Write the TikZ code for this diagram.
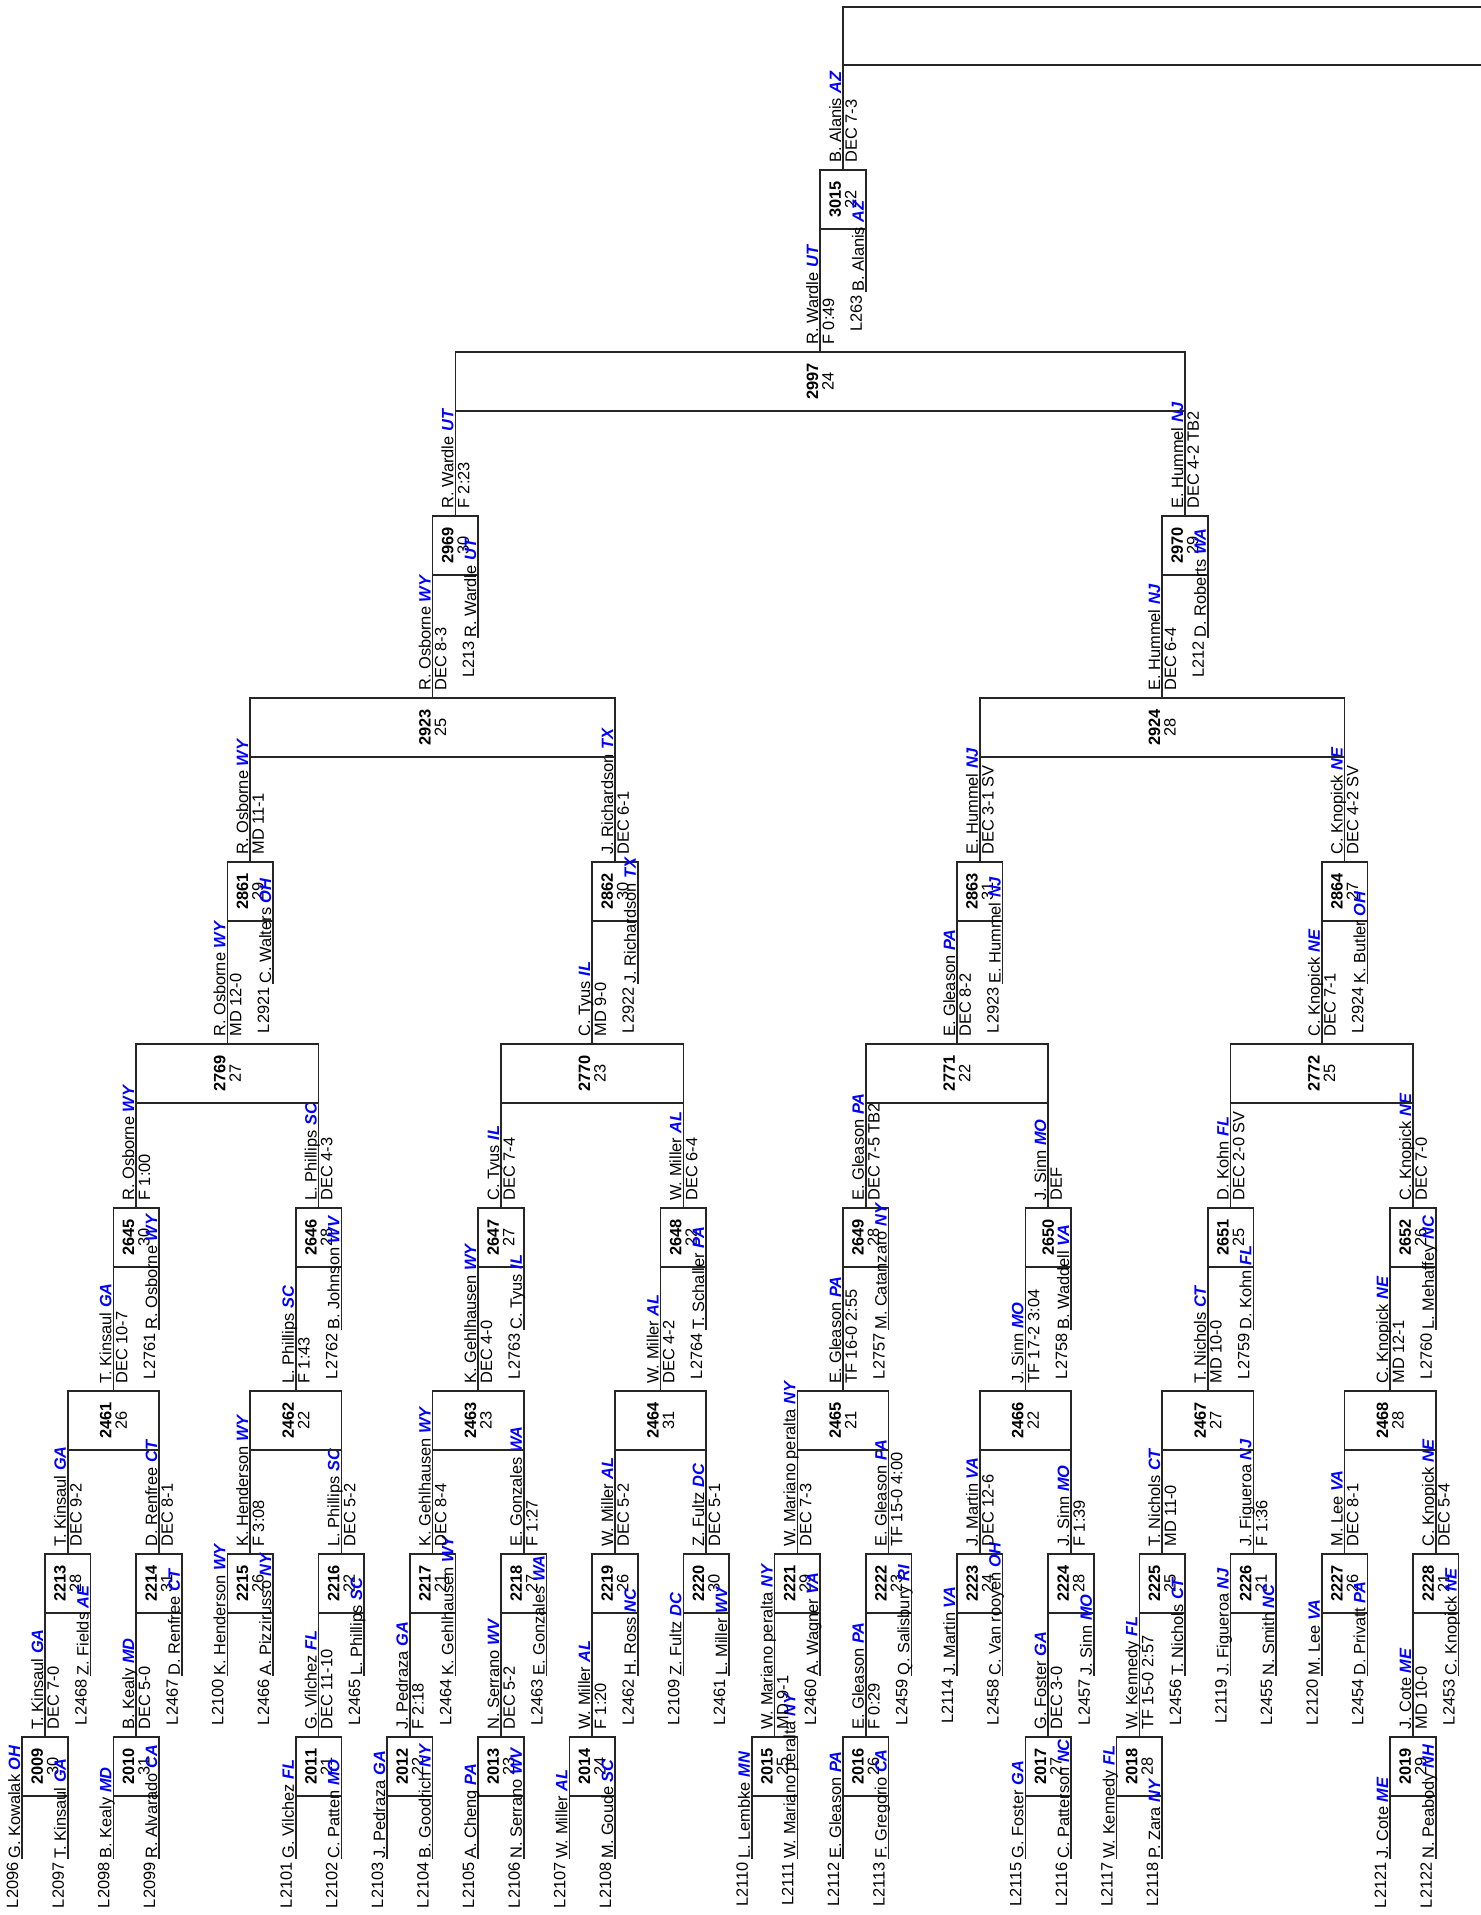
\documentclass[tikz,border=0pt]{standalone}
\usepackage{fontspec}
\setmainfont{Liberation Sans}
\definecolor{stblue}{RGB}{0,0,255}
\newcommand\stab[1]{{\bfseries\itshape\color{stblue}#1}}
\pgfmathdeclarefunction{xk}{1}{\pgfmathparse{45+45.6*(#1)}}
\pgfmathdeclarefunction{ctwo}{1}{\pgfmathparse{67.8+91.2*(#1)}}
\pgfmathdeclarefunction{cthree}{1}{\pgfmathparse{113.4+182.4*(#1)}}
\pgfmathdeclarefunction{cfour}{1}{\pgfmathparse{136.2+182.4*(#1)}}
\pgfmathdeclarefunction{cfive}{1}{\pgfmathparse{227.4+364.8*(#1)}}
\pgfmathdeclarefunction{csix}{1}{\pgfmathparse{250.2+364.8*(#1)}}
\pgfmathdeclarefunction{cseven}{1}{\pgfmathparse{432.6+729.6*(#1)}}
\pgfmathdeclarefunction{ceight}{1}{\pgfmathparse{455.4+729.6*(#1)}}
% box: name, xl, xr, top, number, mat
\newcommand\bxm[6]{%
  \draw[ln] ({#2},{#4}) rectangle ({#3},{#4+59});
  \node[bx] (#1) at ({(#2+#3)/2},{#4+29.5}) {\textbf{#5}\\#6};
}
% entry line: x, box bottom, label, name, state
\newcommand\ent[5]{%
  \draw[ln] ({#1},{#2}) -- ({#1},{#2+63});
  \node[nm,anchor=base west] at ({#1-2},{#2+63}) {#4 \stab{#5}};
  \node[nm,anchor=base east] at ({#1-4},{#2+66}) {#3};
}
% winner line: x, box top, next box bottom, name, state, result
\newcommand\win[6]{%
  \draw[ln] ({#1},{#2}) -- ({#1},{#3});
  \node[nm,anchor=base west] at ({#1-2},{#2-7}) {#4 \stab{#5}};
  \node[nm,anchor=north west] at ({#1+2},{#2-7}) {#6};
}
% first round: j, number, mat, lab1, name1, st1, lab2, name2, st2
\newcommand\rone[9]{%
  \bxm{m#2}{xk(2*#1)-22.8}{xk(2*#1)+22.8}{1737}{#2}{#3}
  \ent{xk(2*#1)-22.8}{1796}{#4}{#5}{#6}
  \ent{xk(2*#1)+22.8}{1796}{#7}{#8}{#9}
}
% second round: j, number, mat, lab, name, state (right entry)
\newcommand\rtwo[6]{%
  \bxm{m#2}{xk(2*#1)}{xk(2*#1+1)}{1554}{#2}{#3}
  \ent{xk(2*#1+1)}{1613}{#4}{#5}{#6}
}
\begin{document}
\begin{tikzpicture}[x=0.5pt,y=-0.5pt,
  ln/.style={line width=0.75pt,draw=black!85},
  nm/.style={rotate=90,inner sep=0pt,font=\fontsize{8.2}{9.8}\selectfont},
  bx/.style={rotate=90,inner sep=0pt,align=center,font=\fontsize{8.2}{7.75}\selectfont}]
\useasboundingbox (0,0) rectangle (1481,1915);

% ---------- round 1 ----------
\rone{0}{2009}{30}{L2096}{G. Kowalak}{OH}{L2097}{T. Kinsaul}{GA}
\rone{1}{2010}{31}{L2098}{B. Kealy}{MD}{L2099}{R. Alvarado}{CA}
\rone{3}{2011}{21}{L2101}{G. Vilchez}{FL}{L2102}{C. Patten}{MO}
\rone{4}{2012}{22}{L2103}{J. Pedraza}{GA}{L2104}{B. Goodrich}{NY}
\rone{5}{2013}{23}{L2105}{A. Cheng}{PA}{L2106}{N. Serrano}{WV}
\rone{6}{2014}{24}{L2107}{W. Miller}{AL}{L2108}{M. Goude}{SC}
\rone{8}{2015}{25}{L2110}{L. Lembke}{MN}{L2111}{W. Mariano peralta}{NY}
\rone{9}{2016}{26}{L2112}{E. Gleason}{PA}{L2113}{F. Gregorio}{CA}
\rone{11}{2017}{27}{L2115}{G. Foster}{GA}{L2116}{C. Patterson}{NC}
\rone{12}{2018}{28}{L2117}{W. Kennedy}{FL}{L2118}{P. Zara}{NY}
\rone{15}{2019}{29}{L2121}{J. Cote}{ME}{L2122}{N. Peabody}{NH}
\win{xk(0)}{1737}{1613}{T. Kinsaul}{GA}{DEC 7-0}
\win{xk(2)}{1737}{1613}{B. Kealy}{MD}{DEC 5-0}
\win{xk(6)}{1737}{1613}{G. Vilchez}{FL}{DEC 11-10}
\win{xk(8)}{1737}{1613}{J. Pedraza}{GA}{F 2:18}
\win{xk(10)}{1737}{1613}{N. Serrano}{WV}{DEC 5-2}
\win{xk(12)}{1737}{1613}{W. Miller}{AL}{F 1:20}
\win{xk(16)}{1737}{1613}{W. Mariano peralta}{NY}{MD 9-1}
\win{xk(18)}{1737}{1613}{E. Gleason}{PA}{F 0:29}
\win{xk(22)}{1737}{1613}{G. Foster}{GA}{DEC 3-0}
\win{xk(24)}{1737}{1613}{W. Kennedy}{FL}{TF 15-0 2:57}
\win{xk(30)}{1737}{1613}{J. Cote}{ME}{MD 10-0}

% ---------- round 2 ----------
\rtwo{0}{2213}{28}{L2468}{Z. Fields}{AE}
\rtwo{1}{2214}{31}{L2467}{D. Renfree}{CT}
\rtwo{2}{2215}{26}{L2466}{A. Pizzirusso}{NY}
\rtwo{3}{2216}{22}{L2465}{L. Phillips}{SC}
\rtwo{4}{2217}{21}{L2464}{K. Gehlhausen}{WY}
\rtwo{5}{2218}{27}{L2463}{E. Gonzales}{WA}
\rtwo{6}{2219}{26}{L2462}{H. Ross}{NC}
\rtwo{7}{2220}{30}{L2461}{L. Miller}{WV}
\rtwo{8}{2221}{29}{L2460}{A. Wagner}{VA}
\rtwo{9}{2222}{23}{L2459}{Q. Salisbury}{RI}
\rtwo{10}{2223}{24}{L2458}{C. Van rooyen}{OH}
\rtwo{11}{2224}{28}{L2457}{J. Sinn}{MO}
\rtwo{12}{2225}{25}{L2456}{T. Nichols}{CT}
\rtwo{13}{2226}{21}{L2455}{N. Smith}{NC}
\rtwo{14}{2227}{26}{L2454}{D. Privatt}{PA}
\rtwo{15}{2228}{21}{L2453}{C. Knopick}{NE}
\ent{xk(4)}{1613}{L2100}{K. Henderson}{WY}
\ent{xk(14)}{1613}{L2109}{Z. Fultz}{DC}
\ent{xk(20)}{1613}{L2114}{J. Martin}{VA}
\ent{xk(26)}{1613}{L2119}{J. Figueroa}{NJ}
\ent{xk(28)}{1613}{L2120}{M. Lee}{VA}
\win{ctwo(0)}{1554}{1450}{T. Kinsaul}{GA}{DEC 9-2}
\win{ctwo(1)}{1554}{1450}{D. Renfree}{CT}{DEC 8-1}
\win{ctwo(2)}{1554}{1450}{K. Henderson}{WY}{F 3:08}
\win{ctwo(3)}{1554}{1450}{L. Phillips}{SC}{DEC 5-2}
\win{ctwo(4)}{1554}{1450}{K. Gehlhausen}{WY}{DEC 8-4}
\win{ctwo(5)}{1554}{1450}{E. Gonzales}{WA}{F 1:27}
\win{ctwo(6)}{1554}{1450}{W. Miller}{AL}{DEC 5-2}
\win{ctwo(7)}{1554}{1450}{Z. Fultz}{DC}{DEC 5-1}
\win{ctwo(8)}{1554}{1450}{W. Mariano peralta}{NY}{DEC 7-3}
\win{ctwo(9)}{1554}{1450}{E. Gleason}{PA}{TF 15-0 4:00}
\win{ctwo(10)}{1554}{1450}{J. Martin}{VA}{DEC 12-6}
\win{ctwo(11)}{1554}{1450}{J. Sinn}{MO}{F 1:39}
\win{ctwo(12)}{1554}{1450}{T. Nichols}{CT}{MD 11-0}
\win{ctwo(13)}{1554}{1450}{J. Figueroa}{NJ}{F 1:36}
\win{ctwo(14)}{1554}{1450}{M. Lee}{VA}{DEC 8-1}
\win{ctwo(15)}{1554}{1450}{C. Knopick}{NE}{DEC 5-4}

% ---------- round 3 ----------
\bxm{m2461}{ctwo(0)}{ctwo(1)}{1391}{2461}{26}
\bxm{m2462}{ctwo(2)}{ctwo(3)}{1391}{2462}{22}
\bxm{m2463}{ctwo(4)}{ctwo(5)}{1391}{2463}{23}
\bxm{m2464}{ctwo(6)}{ctwo(7)}{1391}{2464}{31}
\bxm{m2465}{ctwo(8)}{ctwo(9)}{1391}{2465}{21}
\bxm{m2466}{ctwo(10)}{ctwo(11)}{1391}{2466}{22}
\bxm{m2467}{ctwo(12)}{ctwo(13)}{1391}{2467}{27}
\bxm{m2468}{ctwo(14)}{ctwo(15)}{1391}{2468}{28}
\win{cthree(0)}{1391}{1267}{T. Kinsaul}{GA}{DEC 10-7}
\win{cthree(1)}{1391}{1267}{L. Phillips}{SC}{F 1:43}
\win{cthree(2)}{1391}{1267}{K. Gehlhausen}{WY}{DEC 4-0}
\win{cthree(3)}{1391}{1267}{W. Miller}{AL}{DEC 4-2}
\win{cthree(4)}{1391}{1267}{E. Gleason}{PA}{TF 16-0 2:55}
\win{cthree(5)}{1391}{1267}{J. Sinn}{MO}{TF 17-2 3:04}
\win{cthree(6)}{1391}{1267}{T. Nichols}{CT}{MD 10-0}
\win{cthree(7)}{1391}{1267}{C. Knopick}{NE}{MD 12-1}

% ---------- round 4 ----------
\bxm{m2645}{cthree(0)}{cthree(0)+45.6}{1208}{2645}{30}
\bxm{m2646}{cthree(1)}{cthree(1)+45.6}{1208}{2646}{28}
\bxm{m2647}{cthree(2)}{cthree(2)+45.6}{1208}{2647}{27}
\bxm{m2648}{cthree(3)}{cthree(3)+45.6}{1208}{2648}{22}
\bxm{m2649}{cthree(4)}{cthree(4)+45.6}{1208}{2649}{28}
\draw[ln] ({cthree(5)},1208) rectangle ({cthree(5)+45.6},1267);
\node[bx] (m2650) at ({cthree(5)+22.8},1237.5) {\textbf{2650}};
\bxm{m2651}{cthree(6)}{cthree(6)+45.6}{1208}{2651}{25}
\bxm{m2652}{cthree(7)}{cthree(7)+45.6}{1208}{2652}{26}
\ent{cthree(0)+45.6}{1267}{L2761}{R. Osborne}{WY}
\ent{cthree(1)+45.6}{1267}{L2762}{B. Johnson}{WV}
\ent{cthree(2)+45.6}{1267}{L2763}{C. Tyus}{IL}
\ent{cthree(3)+45.6}{1267}{L2764}{T. Schaller}{PA}
\ent{cthree(4)+45.6}{1267}{L2757}{M. Catanzaro}{NY}
\ent{cthree(5)+45.6}{1267}{L2758}{B. Waddell}{VA}
\ent{cthree(6)+45.6}{1267}{L2759}{D. Kohn}{FL}
\ent{cthree(7)+45.6}{1267}{L2760}{L. Mehaffey}{NC}
\win{cfour(0)}{1208}{1103}{R. Osborne}{WY}{F 1:00}
\win{cfour(1)}{1208}{1103}{L. Phillips}{SC}{DEC 4-3}
\win{cfour(2)}{1208}{1103}{C. Tyus}{IL}{DEC 7-4}
\win{cfour(3)}{1208}{1103}{W. Miller}{AL}{DEC 6-4}
\win{cfour(4)}{1208}{1103}{E. Gleason}{PA}{DEC 7-5 TB2}
\win{cfour(5)}{1208}{1103}{J. Sinn}{MO}{DEF}
\win{cfour(6)}{1208}{1103}{D. Kohn}{FL}{DEC 2-0 SV}
\win{cfour(7)}{1208}{1103}{C. Knopick}{NE}{DEC 7-0}

% ---------- round 5 ----------
\bxm{m2769}{cfour(0)}{cfour(1)}{1044}{2769}{27}
\bxm{m2770}{cfour(2)}{cfour(3)}{1044}{2770}{23}
\bxm{m2771}{cfour(4)}{cfour(5)}{1044}{2771}{22}
\bxm{m2772}{cfour(6)}{cfour(7)}{1044}{2772}{25}
\win{cfive(0)}{1044}{921}{R. Osborne}{WY}{MD 12-0}
\win{cfive(1)}{1044}{921}{C. Tyus}{IL}{MD 9-0}
\win{cfive(2)}{1044}{921}{E. Gleason}{PA}{DEC 8-2}
\win{cfive(3)}{1044}{921}{C. Knopick}{NE}{DEC 7-1}

% ---------- round 6 ----------
\bxm{m2861}{cfive(0)}{cfive(0)+45.6}{862}{2861}{29}
\bxm{m2862}{cfive(1)}{cfive(1)+45.6}{862}{2862}{30}
\bxm{m2863}{cfive(2)}{cfive(2)+45.6}{862}{2863}{31}
\bxm{m2864}{cfive(3)}{cfive(3)+45.6}{862}{2864}{27}
\ent{cfive(0)+45.6}{921}{L2921}{C. Walters}{OH}
\ent{cfive(1)+45.6}{921}{L2922}{J. Richardson}{TX}
\ent{cfive(2)+45.6}{921}{L2923}{E. Hummel}{NJ}
\ent{cfive(3)+45.6}{921}{L2924}{K. Butler}{OH}
\win{csix(0)}{862}{757}{R. Osborne}{WY}{MD 11-1}
\win{csix(1)}{862}{757}{J. Richardson}{TX}{DEC 6-1}
\win{csix(2)}{862}{757}{E. Hummel}{NJ}{DEC 3-1 SV}
\win{csix(3)}{862}{757}{C. Knopick}{NE}{DEC 4-2 SV}

% ---------- round 7 ----------
\bxm{m2923}{csix(0)}{csix(1)}{698}{2923}{25}
\bxm{m2924}{csix(2)}{csix(3)}{698}{2924}{28}
\win{cseven(0)}{698}{575}{R. Osborne}{WY}{DEC 8-3}
\win{cseven(1)}{698}{575}{E. Hummel}{NJ}{DEC 6-4}

% ---------- round 8 ----------
\bxm{m2969}{cseven(0)}{cseven(0)+45.6}{516}{2969}{30}
\bxm{m2970}{cseven(1)}{cseven(1)+45.6}{516}{2970}{29}
\ent{cseven(0)+45.6}{575}{L213}{R. Wardle}{UT}
\ent{cseven(1)+45.6}{575}{L212}{D. Roberts}{WA}
\win{ceight(0)}{516}{411}{R. Wardle}{UT}{F 2:23}
\win{ceight(1)}{516}{411}{E. Hummel}{NJ}{DEC 4-2 TB2}

% ---------- round 9 ----------
\bxm{m2997}{ceight(0)}{ceight(1)}{352}{2997}{24}
\win{820.2}{352}{229}{R. Wardle}{UT}{F 0:49}

% ---------- round 10 ----------
\bxm{m3015}{820.2}{865.8}{170}{3015}{22}
\ent{865.8}{229}{L263}{B. Alanis}{AZ}
\win{843}{170}{65}{B. Alanis}{AZ}{DEC 7-3}

% ---------- final (cropped) ----------
\draw[ln] (1481,7) -- (843,7) -- (843,65) -- (1481,65);
\end{tikzpicture}
\end{document}
